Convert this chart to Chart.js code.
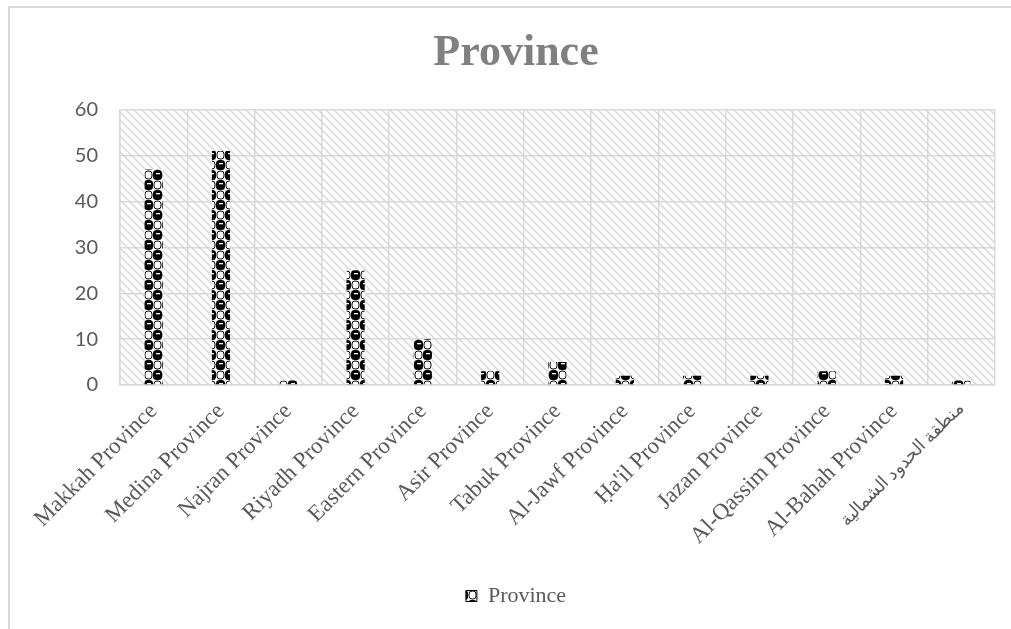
<!DOCTYPE html>
<html>
<head>
<meta charset="utf-8">
<script src="https://cdn.jsdelivr.net/npm/chart.js@4"></script>
<style>
  body { margin: 0; overflow: hidden; background: #fff; }
  #frame { position: absolute; left: 8px; top: 6px; width: 1100px; height: 700px; border: 2px solid #d9d9d9; }
  #wrap { position: absolute; left: 0; top: 0; width: 1011px; height: 629px; }
</style>
</head>
<body>
<div id="frame"></div>
<div id="wrap"><canvas id="provinceChart"></canvas></div>
<script>
const provinces = [
    'Makkah Province',
    'Medina Province',
    'Najran Province',
    'Riyadh Province',
    'Eastern Province',
    'Asir Province',
    'Tabuk Province',
    'Al-Jawf Province',
    'Ḥa\'il Province',
    'Jazan Province',
    'Al-Qassim Province',
    'Al-Bahah Province',
    'منطقة الحدود الشمالية',
];
const counts = [47, 51, 1, 25, 10, 3, 5, 2, 2, 2, 3, 2, 1];
const yTicks = [0, 10, 20, 30, 40, 50, 60];

// diagonal hatch for the plot background
function hatchPattern() {
    const c = document.createElement('canvas');
    c.width = 8; c.height = 8;
    const g = c.getContext('2d');
    g.fillStyle = '#fff';
    g.fillRect(0, 0, 8, 8);
    g.strokeStyle = '#dcdcdc';
    g.lineWidth = 1.6;
    g.beginPath();
    g.moveTo(-2, -2); g.lineTo(10, 10);
    g.moveTo(-2, 6); g.lineTo(2, 10);
    g.moveTo(6, -2); g.lineTo(10, 2);
    g.stroke();
    return g.createPattern(c, 'repeat');
}

// black/white checker of rounded cells for the bars
function checkerPattern() {
    const w = 9, h = 10;
    const c = document.createElement('canvas');
    c.width = w * 2; c.height = h * 2;
    const g = c.getContext('2d');
    g.fillStyle = '#fff';
    g.fillRect(0, 0, c.width, c.height);
    const dark = (x, y) => {
        g.fillStyle = '#000';
        g.beginPath();
        g.roundRect(x, y, w, h, 3.5);
        g.fill();
        g.fillStyle = '#fff';
        g.fillRect(x + 3, y + 3, 4, 1.3);
    };
    const light = (x, y) => {
        g.strokeStyle = '#000';
        g.lineWidth = 1;
        g.beginPath();
        g.roundRect(x + 1, y + 1, w - 2, h - 2, 3);
        g.stroke();
    };
    light(w, 0);
    light(0, h);
    dark(0, 0);
    dark(w, h);
    return g.createPattern(c, 'repeat');
}

const plotBackground = {
    id: 'plotBackground',
    beforeDraw(chart) {
        const a = chart.chartArea;
        const ctx = chart.ctx;
        ctx.save();
        ctx.fillStyle = hatchPattern();
        ctx.fillRect(a.left, a.top, a.right - a.left, a.bottom - a.top);
        ctx.restore();
    }
};

const gridColor = '#d9d9d9';
const barFill = checkerPattern();

const data = {
    labels: provinces,
    datasets: [{
        label: 'Province',
        data: counts,
        backgroundColor: barFill,
        borderWidth: 0,
        barPercentage: 0.27,
        categoryPercentage: 1
    }]
};

const config = {
    type: 'bar',
    data: data,
    plugins: [plotBackground],
    options: {
        responsive: true,
        maintainAspectRatio: false,
        animation: false,
        layout: { padding: { left: 37, right: 16, top: 0, bottom: 12 } },
        scales: {
            x: {
                grid: { color: gridColor, lineWidth: 1.5, drawTicks: false },
                border: { color: gridColor, width: 1.5 },
                ticks: {
                    autoSkip: false,
                    maxRotation: 45,
                    minRotation: 45,
                    padding: 13,
                    color: '#595959',
                    // the Arabic label falls back to a wider face, so shrink it a bit
                    font: (ctx) => ({
                        family: 'Liberation Serif',
                        size: ctx.index === provinces.length - 1 ? 18 : 23
                    })
                },
                afterFit(scale) { scale.height = 192; }
            },
            y: {
                min: 0,
                max: 60,
                afterBuildTicks(scale) { scale.ticks = yTicks.map(v => ({ value: v })); },
                grid: { color: gridColor, lineWidth: 1.5, drawTicks: false },
                border: { color: gridColor, width: 1.5 },
                ticks: {
                    padding: 22,
                    color: '#595959',
                    font: { family: 'Lato', size: 20 }
                },
                afterFit(scale) { scale.width = 83; }
            }
        },
        plugins: {
            title: {
                display: true,
                text: 'Province',
                color: '#808080',
                padding: { top: 27, bottom: 30 },
                font: { family: 'Liberation Serif', size: 44, weight: 'bold' }
            },
            legend: {
                position: 'bottom',
                labels: {
                    boxWidth: 11,
                    boxHeight: 11,
                    padding: 8,
                    color: '#595959',
                    font: { family: 'Liberation Serif', size: 22 },
                    generateLabels(chart) {
                        return [{
                            text: 'Province',
                            fillStyle: barFill,
                            strokeStyle: '#000',
                            lineWidth: 1,
                            fontColor: '#595959',
                            datasetIndex: 0
                        }];
                    }
                }
            },
            tooltip: { enabled: false }
        }
    }
};

const provinceChart = new Chart(
    document.getElementById('provinceChart'),
    config
);
</script>
</body>
</html>
